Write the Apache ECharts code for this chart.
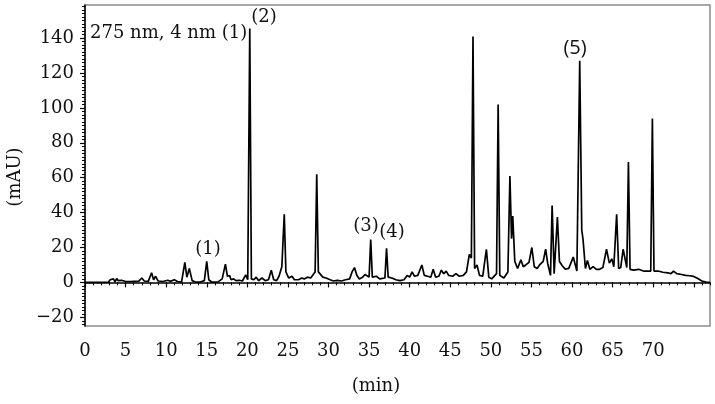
<!DOCTYPE html>
<html>
<head>
<meta charset="utf-8">
<title>Chromatogram 275 nm</title>
<script src="https://cdn.jsdelivr.net/npm/echarts@6/dist/echarts.min.js"></script>
<style>
  html, body { margin: 0; padding: 0; background: #fff; }
  #chart { width: 715px; height: 404px; }
</style>
</head>
<body>
<div id="chart"></div>
<script>
// retention time (min) and absorbance (mAU)
const retentionMin = [
  0, 2.9, 3.1, 3.3, 3.5, 3.7, 3.9, 4.1, 4.5, 5.0, 5.6, 6.0, 6.6, 7.0, 7.3, 7.8,
  8.2, 8.45, 8.7, 9.0, 9.6, 10.2, 10.5, 11.0, 11.4, 11.9, 12.3, 12.55, 12.85, 13.2, 13.6,
  14.2, 14.7, 15.0, 15.25, 15.6, 16.4, 16.9, 17.3, 17.55, 17.8, 18.0, 18.3, 18.6, 19.0,
  19.4, 19.8, 20.05, 20.3, 20.5, 20.8, 21.1, 21.4, 21.8, 22.2, 22.6, 22.95, 23.25, 23.6,
  23.9, 24.25, 24.55, 24.75, 25.1, 25.5, 25.8, 26.3, 26.7, 27.0, 27.4, 27.8, 28.35, 28.55,
  28.75, 29.3, 29.7, 30.2, 30.6, 31.1, 31.6, 32.1, 32.6, 32.9, 33.2, 33.5, 33.8, 34.2,
  34.5, 35.0, 35.2, 35.4, 35.9, 36.3, 36.95, 37.15, 37.35, 37.8, 38.3, 38.8, 39.3, 39.7,
  40.0, 40.3, 40.6, 41.0, 41.5, 41.8, 42.2, 42.6, 42.9, 43.2, 43.6, 43.9, 44.2, 44.5,
  44.8, 45.3, 45.7, 46.1, 46.6, 47.0, 47.35, 47.6, 47.8, 48.0, 48.3, 48.6, 49.0, 49.45,
  49.75, 50.1, 50.7, 50.9, 51.1, 51.6, 52.1, 52.35, 52.55, 52.7, 52.95, 53.3, 53.7, 54.0,
  54.3, 54.7, 55.05, 55.35, 55.7, 56.0, 56.2, 56.45, 56.75, 57.0, 57.35, 57.55, 57.8, 58.2,
  58.45, 58.8, 59.2, 59.6, 60.15, 60.6, 60.95, 61.2, 61.35, 61.65, 61.9, 62.2, 62.6, 63.0,
  63.4, 63.8, 64.25, 64.6, 64.9, 65.15, 65.5, 65.75, 66.0, 66.3, 66.75, 66.95, 67.15, 67.6,
  68.2, 68.8, 69.7, 69.9, 70.1, 70.6, 71.2, 71.8, 72.2, 72.5, 72.9, 73.5, 74.0, 74.5,
  75.0, 75.5, 76.0, 76.5, 77.0
];
const absorbanceMAU = [
  0, 0.2, 1.5, 0.5, 2, 0.3, 2.2, 1, 1.2, 0.5, 0.4, 0.6, 0.6, 2.5, 0.8, 0.6,
  5.5, 1.5, 3.5, 0.8, 0.5, 1.2, 0.6, 1.5, 0.5, 0.3, 11.5, 3, 8, 1, 0.2,
  0.2, 1, 12, 1.5, 0.2, 0.3, 2, 10.5, 3.5, 4, 1.5, 2, 1, 1.2,
  0.8, 4.3, 1.5, 145.5, 2, 1.5, 3, 1, 2.5, 1, 1.5, 7, 1.5, 1,
  3.5, 9, 39, 6, 2.5, 3.5, 1.5, 1.5, 2.5, 2, 3, 2.5, 6, 62,
  6, 3, 2.5, 1.5, 0.8, 1.2, 0.8, 1.5, 2, 6, 8.5, 4, 2, 3,
  4.5, 3, 24.5, 3, 3.5, 2, 2.5, 19.5, 3, 2.5, 1.5, 1, 1.5, 4,
  3, 6, 3.5, 4, 10, 4, 3.5, 3, 7.5, 3, 3.5, 7, 5, 6.5,
  4, 3.5, 5, 3.5, 4, 6, 16, 14, 141, 8, 10, 4, 3.5, 19,
  3, 2, 5, 102, 4, 2.5, 6, 61, 25, 38, 12, 8, 13, 9,
  10, 11.5, 20, 9, 8, 10, 9, 12, 19, 11, 4, 44, 5, 37.5,
  12, 9.5, 7.5, 8, 14.5, 6.5, 127, 30, 25, 8, 12.5, 7.5, 9, 7.5,
  7.5, 8.5, 19, 11, 13.5, 9, 39, 8, 8.5, 19, 8.5, 69, 7.5, 7,
  7.5, 6.5, 6.5, 94, 6.5, 6.5, 5.8, 5.5, 5, 6.5, 5, 4.5, 4, 3.8,
  3.4, 2.2, 0.8, 0.2, 0
];

const xTickLabels = [0, 5, 10, 15, 20, 25, 30, 35, 40, 45, 50, 55, 60, 65, 70];
const xMajorTicks = [0, 5, 10, 15, 20, 25, 30, 35, 40, 45, 50, 55, 60, 65, 70, 75];
const yTickLabels = [-20, 0, 20, 40, 60, 80, 100, 120, 140];

// minor tick positions (1 min on x, 2 mAU on y)
const xMinorTicks = [];
for (let t = 0; t <= 77; t++) xMinorTicks.push(t);
const yMinorTicks = [];
for (let v = -24; v <= 158; v += 2) yMinorTicks.push(v);

const serif = "'DejaVu Serif', 'Liberation Serif', serif";
const X_MIN = 0, X_MAX = 77, Y_MIN = -25, Y_MAX = 159;

const chart = echarts.init(document.getElementById('chart'));

const minusSign = (v) => String(v).replace('-', '\u2212');

const option = {
  animation: false,
  backgroundColor: '#fff',
  grid: {
    left: 85, right: 5, top: 5, bottom: 78,
    show: true,
    borderColor: '#8c8c8c',
    borderWidth: 1.5
  },
  xAxis: [{
    type: 'value', min: X_MIN, max: X_MAX, position: 'bottom',
    axisLine: { lineStyle: { color: '#000', width: 1.5 } },
    axisTick: { customValues: xMajorTicks, length: 5, lineStyle: { color: '#000', width: 1.2 } },
    axisLabel: { customValues: xTickLabels, color: '#111', fontFamily: serif, fontSize: 18, margin: 16 },
    splitLine: { show: false }
  }, {
    type: 'value', min: X_MIN, max: X_MAX, position: 'bottom',
    axisLine: { show: false },
    axisTick: { customValues: xMinorTicks, length: 3, lineStyle: { color: '#000', width: 1 } },
    axisLabel: { show: false },
    splitLine: { show: false }
  }],
  yAxis: [{
    type: 'value', min: Y_MIN, max: Y_MAX, position: 'left',
    axisLine: { show: true, lineStyle: { color: '#000', width: 1.5 } },
    axisTick: { show: true, customValues: yTickLabels, length: 5, lineStyle: { color: '#000', width: 1.2 } },
    axisLabel: { customValues: yTickLabels, formatter: minusSign, color: '#111', fontFamily: serif, fontSize: 18, margin: 11 },
    splitLine: { show: false }
  }, {
    type: 'value', min: Y_MIN, max: Y_MAX, position: 'left',
    axisLine: { show: false },
    axisTick: { show: true, customValues: yMinorTicks, length: 3, lineStyle: { color: '#000', width: 1 } },
    axisLabel: { show: false },
    splitLine: { show: false }
  }],
  series: [{
    type: 'line',
    xAxisIndex: 0,
    yAxisIndex: 0,
    data: retentionMin.map((t, i) => [t, absorbanceMAU[i]]),
    showSymbol: false,
    lineStyle: { color: '#000', width: 1.7 },
    z: 3
  }],
  graphic: [
    { type: 'text', x: 90, y: 33, style: { text: '275 nm, 4 nm (1)', fill: '#111', font: '18px ' + serif, textVerticalAlign: 'middle' } },
    { type: 'text', x: 264, y: 17, style: { text: '(2)', fill: '#111', font: '18px ' + serif, textAlign: 'center', textVerticalAlign: 'middle' } },
    { type: 'text', x: 208, y: 249, style: { text: '(1)', fill: '#111', font: '18px ' + serif, textAlign: 'center', textVerticalAlign: 'middle' } },
    { type: 'text', x: 366, y: 226, style: { text: '(3)', fill: '#111', font: '18px ' + serif, textAlign: 'center', textVerticalAlign: 'middle' } },
    { type: 'text', x: 392, y: 232, style: { text: '(4)', fill: '#111', font: '18px ' + serif, textAlign: 'center', textVerticalAlign: 'middle' } },
    { type: 'text', x: 575, y: 48, style: { text: '(5)', fill: '#111', font: "20px 'Open Sans', sans-serif", textAlign: 'center', textVerticalAlign: 'middle' } },
    { type: 'text', x: 15, y: 177, rotation: Math.PI / 2, style: { text: '(mAU)', fill: '#111', font: '18px ' + serif, textAlign: 'center', textVerticalAlign: 'middle' } },
    { type: 'text', x: 376, y: 386, style: { text: '(min)', fill: '#111', font: '18px ' + serif, textAlign: 'center', textVerticalAlign: 'middle' } }
  ]
};

chart.setOption(option);
</script>
</body>
</html>
